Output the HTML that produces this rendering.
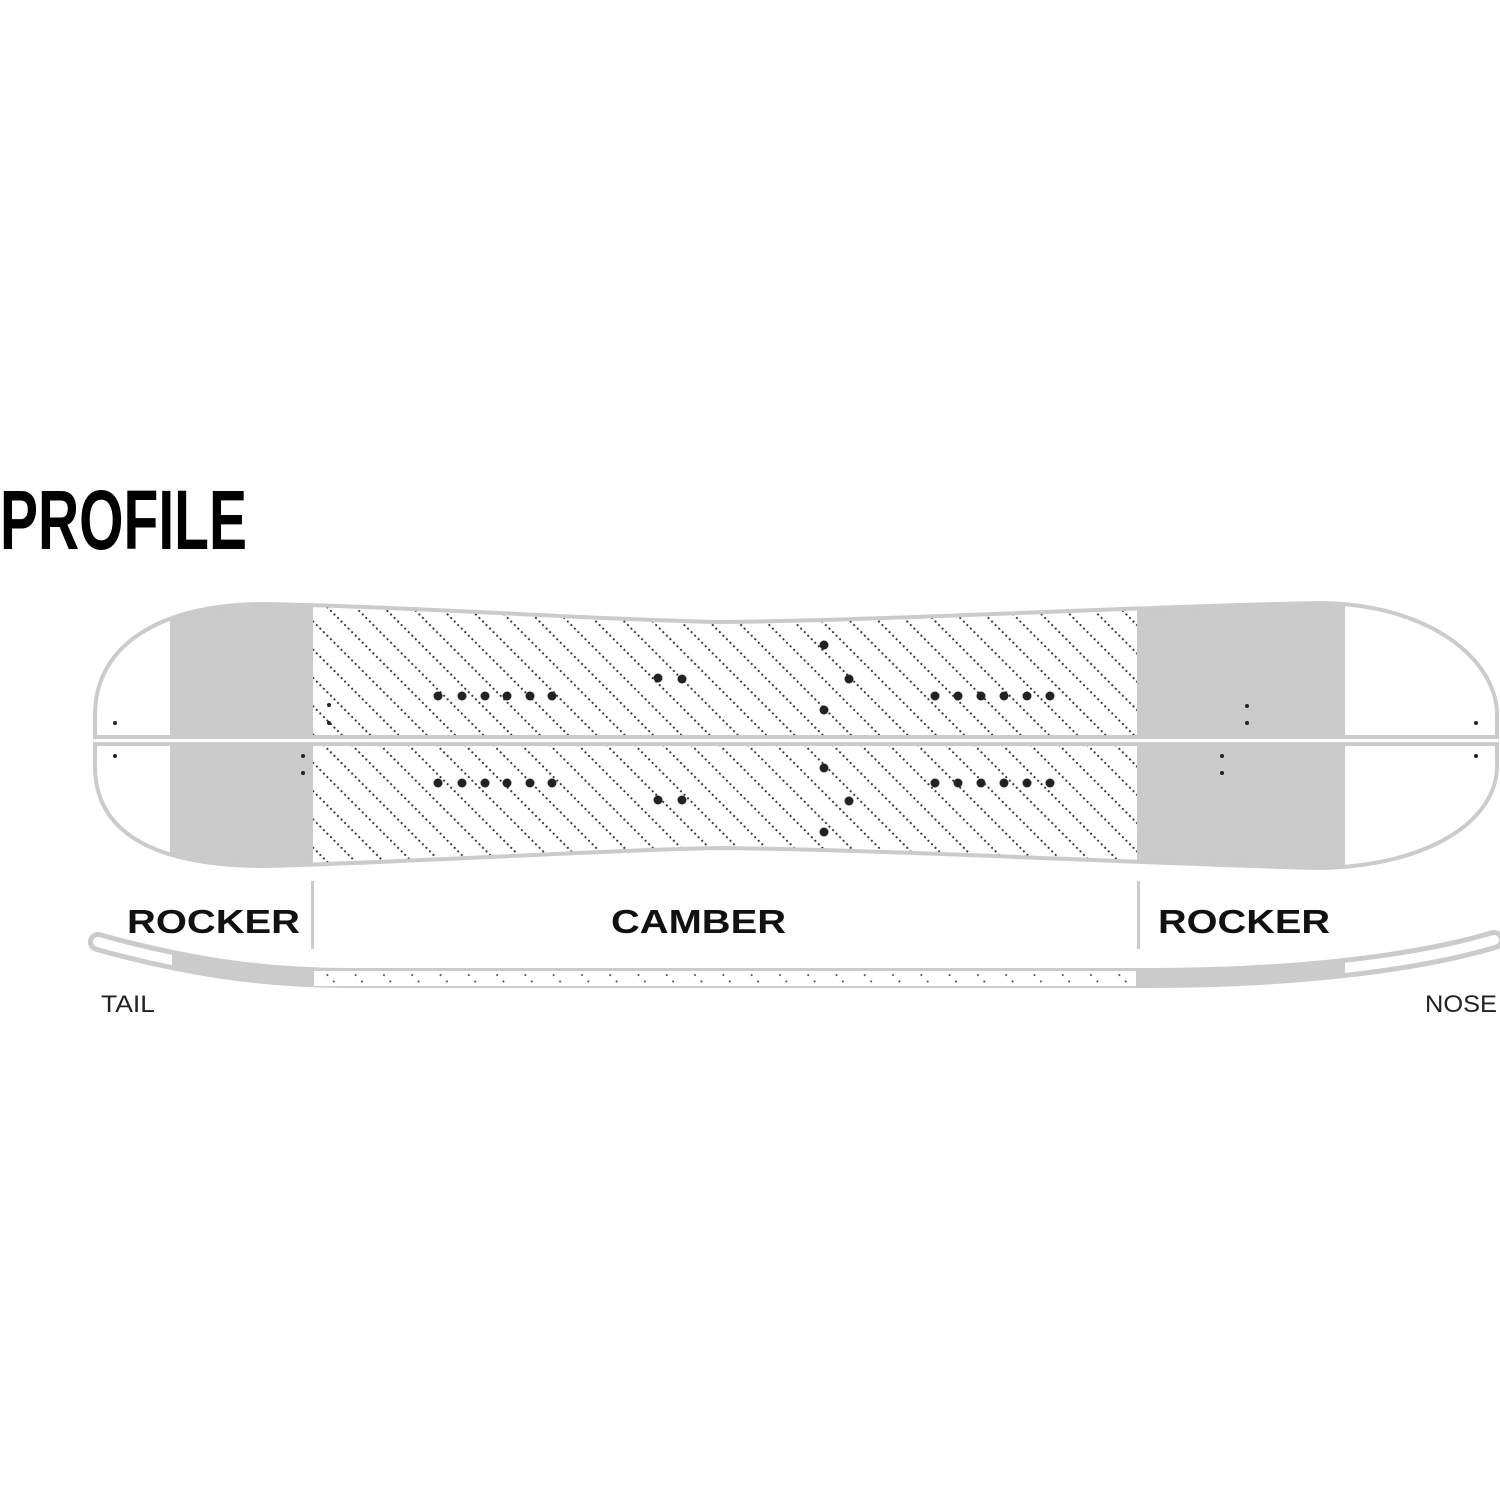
<!DOCTYPE html>
<html><head><meta charset="utf-8"><style>
html,body{margin:0;padding:0;background:#fff;width:1500px;height:1500px;overflow:hidden}
svg{display:block}
</style></head><body>
<svg width="1500" height="1500" viewBox="0 0 1500 1500" xmlns="http://www.w3.org/2000/svg">
<defs>
<pattern id="hatch" patternUnits="userSpaceOnUse" width="20" height="20" patternTransform="rotate(-45)">
<circle cx="2" cy="1" r="1.1" fill="#333"/><circle cx="2" cy="6" r="1.1" fill="#333"/><circle cx="2" cy="11" r="1.1" fill="#333"/><circle cx="2" cy="16" r="1.1" fill="#333"/>
</pattern>
<pattern id="hatch2" patternUnits="userSpaceOnUse" width="20" height="20" patternTransform="rotate(-45)">
<circle cx="2" cy="1" r="1" fill="#444"/><circle cx="2" cy="10" r="1" fill="#444"/>
</pattern>
<clipPath id="topc"><path d="M95,738 L95,715 C95,645 160,604 265,604 C420,607 600,620 720,622 C900,620 1150,606 1320,603 C1430,604 1497,660 1497,715 L1497,738 Z"/></clipPath>
<clipPath id="botc"><path d="M95,743 L95,766 C95,836 160,866 265,866 C420,862 600,850 720,848 C900,850 1150,864 1320,868 C1430,866 1497,820 1497,766 L1497,743 Z"/></clipPath>
<clipPath id="tips"><rect x="0" y="900" width="172" height="120"/><rect x="1345" y="900" width="160" height="120"/></clipPath>
</defs>
<text x="0" y="549" font-family="Liberation Sans Narrow, Liberation Sans, sans-serif" font-weight="bold" font-size="84" textLength="247" lengthAdjust="spacingAndGlyphs">PROFILE</text>

<g clip-path="url(#topc)">
<rect x="0" y="590" width="1500" height="160" fill="#fff"/>
<rect x="170" y="590" width="143" height="160" fill="#cbcbcb"/>
<rect x="313" y="590" width="824" height="160" fill="url(#hatch)"/>
<rect x="1137" y="590" width="208" height="160" fill="#cbcbcb"/>
</g>
<path d="M95,737 L95,715 C95,645 160,604 265,604 C420,607 600,620 720,622 C900,620 1150,606 1320,603 C1430,604 1497,660 1497,715 L1497,737 Z" fill="none" stroke="#cbcbcb" stroke-width="4"/>
<g clip-path="url(#botc)">
<rect x="0" y="735" width="1500" height="140" fill="#fff"/>
<rect x="170" y="735" width="143" height="140" fill="#cbcbcb"/>
<rect x="313" y="735" width="824" height="140" fill="url(#hatch)"/>
<rect x="1137" y="735" width="208" height="140" fill="#cbcbcb"/>
</g>
<path d="M95,744 L95,766 C95,836 160,866 265,866 C420,862 600,850 720,848 C900,850 1150,864 1320,868 C1430,866 1497,820 1497,766 L1497,744 Z" fill="none" stroke="#cbcbcb" stroke-width="4"/>
<rect x="95" y="739.5" width="1402" height="2.5" fill="#fff"/>

<g fill="#222">
<circle cx="438" cy="696" r="4.5"/><circle cx="462" cy="696" r="4.5"/><circle cx="485" cy="696" r="4.5"/><circle cx="507" cy="696" r="4.5"/><circle cx="530" cy="696" r="4.5"/><circle cx="552" cy="696" r="4.5"/>
<circle cx="658" cy="678" r="4.5"/><circle cx="682" cy="679" r="4.5"/>
<circle cx="824" cy="645" r="4.5"/><circle cx="849" cy="679" r="4.5"/><circle cx="824" cy="710" r="4.5"/>
<circle cx="935" cy="696" r="4.5"/><circle cx="958" cy="696" r="4.5"/><circle cx="981" cy="696" r="4.5"/><circle cx="1004" cy="696" r="4.5"/><circle cx="1027" cy="696" r="4.5"/><circle cx="1050" cy="696" r="4.5"/>
<circle cx="438" cy="783" r="4.5"/><circle cx="462" cy="783" r="4.5"/><circle cx="485" cy="783" r="4.5"/><circle cx="507" cy="783" r="4.5"/><circle cx="530" cy="783" r="4.5"/><circle cx="552" cy="783" r="4.5"/>
<circle cx="658" cy="800" r="4.5"/><circle cx="682" cy="800" r="4.5"/>
<circle cx="824" cy="768" r="4.5"/><circle cx="849" cy="801" r="4.5"/><circle cx="824" cy="832" r="4.5"/>
<circle cx="935" cy="783" r="4.5"/><circle cx="958" cy="783" r="4.5"/><circle cx="981" cy="783" r="4.5"/><circle cx="1004" cy="783" r="4.5"/><circle cx="1027" cy="783" r="4.5"/><circle cx="1050" cy="783" r="4.5"/>
<circle cx="115" cy="723" r="2"/><circle cx="115" cy="756" r="2"/><circle cx="303" cy="756" r="2"/><circle cx="303" cy="773" r="2"/>
<circle cx="329" cy="705" r="2"/><circle cx="329" cy="723" r="2"/>
<circle cx="1247" cy="706" r="2"/><circle cx="1247" cy="723" r="2"/><circle cx="1222" cy="756" r="2"/><circle cx="1222" cy="773" r="2"/>
<circle cx="1476" cy="723" r="2"/><circle cx="1476" cy="756" r="2"/>
</g>

<rect x="311" y="881" width="3" height="68" fill="#cbcbcb"/>
<rect x="1137" y="881" width="3" height="68" fill="#cbcbcb"/>
<g font-family="Liberation Sans, sans-serif" font-weight="bold" font-size="33" fill="#111">
<text x="127" y="933" textLength="173" lengthAdjust="spacingAndGlyphs">ROCKER</text>
<text x="611" y="933" textLength="175" lengthAdjust="spacingAndGlyphs">CAMBER</text>
<text x="1158" y="933" textLength="172" lengthAdjust="spacingAndGlyphs">ROCKER</text>
</g>

<path d="M98,942 C180,965 260,978 345,978 L1150,978 C1300,978 1420,962 1494,940" fill="none" stroke="#cbcbcb" stroke-width="20" stroke-linecap="round"/>
<path d="M98,942 C180,965 260,978 345,978 L1150,978 C1300,978 1420,962 1494,940" fill="none" stroke="#fff" stroke-width="10" stroke-linecap="round" clip-path="url(#tips)"/>
<rect x="314" y="971" width="822" height="15" fill="#fff"/>
<rect x="314" y="971" width="822" height="15" fill="url(#hatch2)"/>

<g font-family="Liberation Sans, sans-serif" font-size="24" fill="#222">
<text x="101" y="1012" textLength="54" lengthAdjust="spacingAndGlyphs">TAIL</text>
<text x="1425" y="1012" textLength="72" lengthAdjust="spacingAndGlyphs">NOSE</text>
</g>
</svg>
</body></html>
